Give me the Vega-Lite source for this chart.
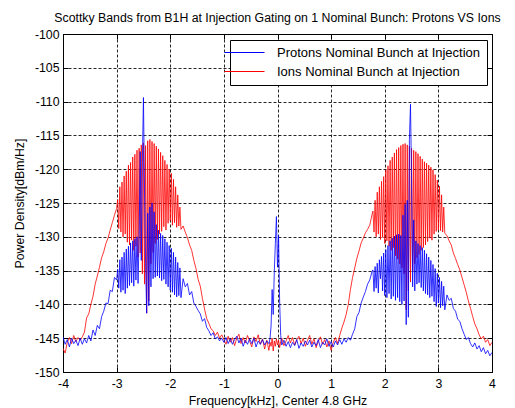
{
  "$schema": "https://vega.github.io/schema/vega-lite/v6.json",
  "width": 429,
  "height": 338,
  "autosize": {"type": "none"},
  "padding": {"left": 63, "top": 34, "right": 23, "bottom": 36},
  "background": "white",
  "title": {"text": "Scottky Bands from B1H at Injection Gating on 1 Nominal Bunch: Protons VS Ions", "fontSize": 12.3, "fontWeight": "normal", "color": "black", "anchor": "middle", "frame": "group", "offset": -6, "baseline": "alphabetic", "font": "Liberation Sans"},
  "config": {
    "font": "Liberation Sans",
    "view": {"stroke": "black", "strokeWidth": 1},
    "axis": {"domainColor": "black", "tickColor": "black", "labelColor": "black", "titleColor": "black", "labelFontSize": 12.3, "titleFontSize": 12.3, "titleFontWeight": "normal", "labelFont": "Liberation Sans", "titleFont": "Liberation Sans", "labelFlush": false, "labelOverlap": false, "gridColor": "black", "gridOpacity": 0.85, "gridDash": [3, 2], "gridWidth": 1, "labelExpr": "'' + datum.value"}
  },
  "data": {"values": [
{"f":-4.00,"a":-144.8,"b":-146.5},{"f":-3.96,"a":-145.9,"b":-147.2},{"f":-3.92,"a":-145.2,"b":-145.6},{"f":-3.88,"a":-146.3,"b":-144.9},
{"f":-3.84,"a":-145.0,"b":-145.8},{"f":-3.80,"a":-145.8,"b":-144.6},{"f":-3.76,"a":-145.3,"b":-145.5},{"f":-3.72,"a":-146.1,"b":-144.9},
{"f":-3.68,"a":-145.0,"b":-145.3},{"f":-3.64,"a":-145.9,"b":-144.8},{"f":-3.60,"a":-145.1,"b":-144.1},{"f":-3.56,"a":-145.7,"b":-142.0},
{"f":-3.52,"a":-144.6,"b":-141.4},{"f":-3.48,"a":-145.4,"b":-140.0},{"f":-3.44,"a":-143.8,"b":-138.8},{"f":-3.40,"a":-144.6,"b":-137.0},
{"f":-3.36,"a":-143.1,"b":-135.8},{"f":-3.32,"a":-143.6,"b":-134.5},{"f":-3.28,"a":-141.8,"b":-133.1},{"f":-3.24,"a":-141.0,"b":-132.2},
{"f":-3.20,"a":-139.8,"b":-131.0},{"f":-3.16,"a":-139.9,"b":-130.2},{"f":-3.12,"a":-137.9,"b":-129.0},{"f":-3.08,"a":-138.1,"b":-127.9},
{"f":-3.04,"a":-136.0,"b":-126.8},{"f":-3.00,"a":-136.4,"b":-125.8},
{"f":-2.98,"a":-134.8,"b":-124.5},{"f":-2.96,"a":-137.6,"b":-128.8},{"f":-2.94,"a":-133.4,"b":-122.6},{"f":-2.92,"a":-138.2,"b":-129.3},
{"f":-2.90,"a":-133.0,"b":-121.9},{"f":-2.88,"a":-137.9,"b":-130.0},{"f":-2.86,"a":-132.3,"b":-121.0},{"f":-2.84,"a":-138.4,"b":-129.6},
{"f":-2.82,"a":-131.8,"b":-120.3},{"f":-2.80,"a":-137.6,"b":-130.8},{"f":-2.78,"a":-131.4,"b":-119.4},{"f":-2.76,"a":-137.2,"b":-131.2},
{"f":-2.74,"a":-130.9,"b":-119.0},{"f":-2.72,"a":-136.8,"b":-130.5},{"f":-2.70,"a":-130.6,"b":-118.2},{"f":-2.68,"a":-137.3,"b":-132.0},
{"f":-2.66,"a":-130.3,"b":-117.8},{"f":-2.64,"a":-136.4,"b":-131.4},{"f":-2.62,"a":-130.0,"b":-117.2},{"f":-2.60,"a":-136.9,"b":-133.0},
{"f":-2.58,"a":-129.7,"b":-116.9},{"f":-2.56,"a":-117.4,"b":-132.4},{"f":-2.54,"a":-133.5,"b":-116.4},{"f":-2.52,"a":-119.0,"b":-135.5},
{"f":-2.50,"a":-109.4,"b":-116.1},{"f":-2.48,"a":-122.8,"b":-137.0},{"f":-2.46,"a":-134.0,"b":-116.5},{"f":-2.44,"a":-141.3,"b":-141.3},
{"f":-2.42,"a":-126.5,"b":-115.8},{"f":-2.40,"a":-140.2,"b":-139.5},{"f":-2.38,"a":-125.6,"b":-115.6},{"f":-2.36,"a":-137.4,"b":-134.0},
{"f":-2.34,"a":-125.0,"b":-115.9},{"f":-2.32,"a":-136.2,"b":-132.3},{"f":-2.30,"a":-126.3,"b":-116.2},{"f":-2.28,"a":-136.0,"b":-131.0},
{"f":-2.26,"a":-128.2,"b":-116.6},{"f":-2.24,"a":-135.8,"b":-130.4},{"f":-2.22,"a":-129.0,"b":-117.0},{"f":-2.20,"a":-136.1,"b":-129.6},
{"f":-2.18,"a":-129.5,"b":-117.5},{"f":-2.16,"a":-136.5,"b":-129.2},{"f":-2.14,"a":-129.8,"b":-118.0},{"f":-2.12,"a":-136.3,"b":-128.5},
{"f":-2.10,"a":-130.3,"b":-118.7},{"f":-2.08,"a":-137.0,"b":-129.0},{"f":-2.06,"a":-130.8,"b":-119.3},{"f":-2.04,"a":-137.4,"b":-128.0},
{"f":-2.02,"a":-131.3,"b":-120.0},{"f":-2.00,"a":-137.9,"b":-127.6},{"f":-1.98,"a":-131.7,"b":-120.6},{"f":-1.96,"a":-138.2,"b":-128.3},
{"f":-1.94,"a":-132.3,"b":-121.5},{"f":-1.92,"a":-138.6,"b":-127.9},{"f":-1.90,"a":-133.0,"b":-122.6},{"f":-1.88,"a":-138.9,"b":-128.6},
{"f":-1.86,"a":-133.8,"b":-123.8},{"f":-1.84,"a":-138.7,"b":-128.4},{"f":-1.82,"a":-134.6,"b":-125.6},{"f":-1.80,"a":-139.0,"b":-128.9},
{"f":-1.76,"a":-136.2,"b":-128.4},{"f":-1.72,"a":-137.4,"b":-129.3},{"f":-1.68,"a":-136.9,"b":-130.1},{"f":-1.64,"a":-138.6,"b":-131.2},
{"f":-1.60,"a":-138.1,"b":-132.0},{"f":-1.56,"a":-139.8,"b":-133.5},{"f":-1.52,"a":-140.3,"b":-134.7},{"f":-1.48,"a":-140.9,"b":-136.3},
{"f":-1.44,"a":-141.4,"b":-137.3},{"f":-1.40,"a":-142.5,"b":-139.1},{"f":-1.36,"a":-142.1,"b":-140.7},{"f":-1.32,"a":-143.4,"b":-142.1},
{"f":-1.28,"a":-143.9,"b":-142.8},{"f":-1.24,"a":-144.6,"b":-143.6},{"f":-1.20,"a":-144.2,"b":-143.9},{"f":-1.16,"a":-145.1,"b":-144.6},
{"f":-1.12,"a":-144.8,"b":-144.1},{"f":-1.08,"a":-145.4,"b":-145.0},{"f":-1.04,"a":-145.0,"b":-144.5},
{"f":-1.00,"a":-145.6,"b":-145.2},{"f":-0.96,"a":-144.9,"b":-145.9},{"f":-0.92,"a":-145.8,"b":-144.7},{"f":-0.88,"a":-145.1,"b":-145.6},
{"f":-0.84,"a":-145.9,"b":-144.9},{"f":-0.80,"a":-145.2,"b":-146.1},{"f":-0.76,"a":-144.7,"b":-145.0},{"f":-0.72,"a":-145.7,"b":-144.4},
{"f":-0.68,"a":-145.0,"b":-145.8},{"f":-0.64,"a":-146.2,"b":-144.9},{"f":-0.60,"a":-145.3,"b":-145.7},{"f":-0.56,"a":-145.9,"b":-144.6},
{"f":-0.52,"a":-145.1,"b":-145.4},{"f":-0.48,"a":-145.8,"b":-146.3},{"f":-0.44,"a":-145.0,"b":-144.8},{"f":-0.40,"a":-146.3,"b":-145.5},
{"f":-0.36,"a":-145.4,"b":-144.5},{"f":-0.32,"a":-145.9,"b":-145.9},{"f":-0.28,"a":-145.2,"b":-145.1},{"f":-0.24,"a":-146.0,"b":-146.6},
{"f":-0.20,"a":-145.4,"b":-145.3},{"f":-0.16,"a":-145.8,"b":-146.8},{"f":-0.14,"a":-145.1,"b":-145.6},{"f":-0.12,"a":-143.2,"b":-146.2},
{"f":-0.10,"a":-137.8,"b":-145.0},{"f":-0.08,"a":-141.5,"b":-146.9},{"f":-0.06,"a":-135.2,"b":-145.4},{"f":-0.04,"a":-131.0,"b":-146.2},
{"f":-0.02,"a":-127.0,"b":-145.1},{"f":0.00,"a":-134.5,"b":-146.0},{"f":0.02,"a":-129.8,"b":-145.3},{"f":0.04,"a":-139.6,"b":-146.4},
{"f":0.06,"a":-144.6,"b":-145.5},{"f":0.08,"a":-146.0,"b":-145.0},{"f":0.12,"a":-145.3,"b":-146.1},{"f":0.16,"a":-146.2,"b":-145.4},
{"f":0.20,"a":-145.5,"b":-144.6},{"f":0.24,"a":-146.4,"b":-145.7},{"f":0.28,"a":-145.6,"b":-144.9},{"f":0.32,"a":-146.1,"b":-146.0},
{"f":0.36,"a":-145.2,"b":-145.2},{"f":0.40,"a":-146.5,"b":-144.7},{"f":0.44,"a":-145.7,"b":-145.8},{"f":0.48,"a":-146.2,"b":-145.0},
{"f":0.52,"a":-145.4,"b":-146.2},{"f":0.56,"a":-146.0,"b":-145.3},{"f":0.60,"a":-145.3,"b":-144.6},{"f":0.64,"a":-146.3,"b":-145.9},
{"f":0.68,"a":-145.6,"b":-145.1},{"f":0.72,"a":-146.1,"b":-146.4},{"f":0.76,"a":-145.2,"b":-145.5},{"f":0.80,"a":-146.4,"b":-144.8},
{"f":0.84,"a":-145.6,"b":-145.9},{"f":0.88,"a":-146.0,"b":-145.2},{"f":0.92,"a":-145.1,"b":-146.3},{"f":0.96,"a":-146.2,"b":-145.4},
{"f":1.00,"a":-145.5,"b":-146.8},{"f":1.04,"a":-146.3,"b":-145.6},{"f":1.08,"a":-145.4,"b":-144.9},{"f":1.12,"a":-146.0,"b":-145.8},
{"f":1.16,"a":-145.2,"b":-144.6},{"f":1.20,"a":-145.9,"b":-143.5},{"f":1.24,"a":-145.1,"b":-142.6},{"f":1.28,"a":-145.6,"b":-141.5},
{"f":1.32,"a":-144.9,"b":-140.0},{"f":1.36,"a":-145.3,"b":-137.8},{"f":1.40,"a":-144.4,"b":-136.0},{"f":1.44,"a":-143.6,"b":-134.6},
{"f":1.48,"a":-141.8,"b":-133.2},{"f":1.52,"a":-141.2,"b":-132.1},{"f":1.56,"a":-139.8,"b":-130.9},{"f":1.60,"a":-138.9,"b":-130.2},
{"f":1.64,"a":-138.1,"b":-129.4},{"f":1.68,"a":-137.0,"b":-128.9},{"f":1.72,"a":-136.4,"b":-128.3},{"f":1.76,"a":-135.2,"b":-126.8},
{"f":1.78,"a":-134.9,"b":-126.2},{"f":1.80,"a":-138.1,"b":-129.3},{"f":1.82,"a":-134.4,"b":-124.6},{"f":1.84,"a":-137.6,"b":-130.0},
{"f":1.86,"a":-133.9,"b":-123.4},{"f":1.88,"a":-138.3,"b":-129.6},{"f":1.90,"a":-133.4,"b":-122.6},{"f":1.92,"a":-136.2,"b":-130.4},
{"f":1.94,"a":-132.9,"b":-121.8},{"f":1.96,"a":-138.0,"b":-130.1},{"f":1.98,"a":-132.4,"b":-121.1},{"f":2.00,"a":-138.7,"b":-131.0},
{"f":2.02,"a":-131.9,"b":-120.1},{"f":2.04,"a":-139.0,"b":-130.6},{"f":2.06,"a":-131.3,"b":-119.5},{"f":2.08,"a":-138.4,"b":-131.4},
{"f":2.10,"a":-130.6,"b":-118.7},{"f":2.12,"a":-139.2,"b":-132.0},{"f":2.14,"a":-130.2,"b":-118.2},{"f":2.16,"a":-138.8,"b":-131.6},
{"f":2.18,"a":-129.9,"b":-117.6},{"f":2.20,"a":-139.4,"b":-132.8},{"f":2.22,"a":-129.7,"b":-117.1},{"f":2.24,"a":-139.0,"b":-133.3},
{"f":2.26,"a":-129.6,"b":-116.8},{"f":2.28,"a":-139.6,"b":-134.0},{"f":2.30,"a":-129.8,"b":-116.5},{"f":2.32,"a":-140.0,"b":-134.6},
{"f":2.34,"a":-126.8,"b":-116.3},{"f":2.36,"a":-139.5,"b":-135.5},{"f":2.38,"a":-125.2,"b":-116.2},{"f":2.40,"a":-143.0,"b":-140.8},
{"f":2.42,"a":-124.6,"b":-116.4},{"f":2.44,"a":-141.9,"b":-138.0},{"f":2.46,"a":-115.6,"b":-116.6},{"f":2.48,"a":-110.4,"b":-136.7},
{"f":2.50,"a":-121.5,"b":-116.9},{"f":2.52,"a":-137.4,"b":-135.2},{"f":2.54,"a":-127.5,"b":-117.2},{"f":2.56,"a":-138.0,"b":-134.0},
{"f":2.58,"a":-130.6,"b":-117.4},{"f":2.60,"a":-137.0,"b":-133.1},{"f":2.62,"a":-131.0,"b":-117.7},{"f":2.64,"a":-136.8,"b":-132.6},
{"f":2.66,"a":-131.3,"b":-118.1},{"f":2.68,"a":-137.5,"b":-132.0},{"f":2.70,"a":-131.6,"b":-118.5},{"f":2.72,"a":-138.0,"b":-131.6},
{"f":2.74,"a":-132.0,"b":-118.9},{"f":2.76,"a":-138.4,"b":-131.2},{"f":2.78,"a":-132.5,"b":-119.1},{"f":2.80,"a":-138.6,"b":-130.7},
{"f":2.82,"a":-133.0,"b":-119.4},{"f":2.84,"a":-139.0,"b":-130.2},{"f":2.86,"a":-133.5,"b":-119.7},{"f":2.88,"a":-138.8,"b":-130.5},
{"f":2.90,"a":-134.1,"b":-120.1},{"f":2.92,"a":-139.6,"b":-129.6},{"f":2.94,"a":-134.7,"b":-120.8},{"f":2.96,"a":-140.3,"b":-129.2},
{"f":2.98,"a":-135.4,"b":-121.6},{"f":3.00,"a":-139.8,"b":-129.0},{"f":3.02,"a":-136.0,"b":-122.5},{"f":3.04,"a":-140.5,"b":-129.1},
{"f":3.06,"a":-136.6,"b":-123.8},{"f":3.08,"a":-140.2,"b":-129.3},{"f":3.10,"a":-137.3,"b":-125.6},{"f":3.12,"a":-140.8,"b":-129.5},
{"f":3.16,"a":-138.6,"b":-129.8},{"f":3.20,"a":-139.4,"b":-130.6},{"f":3.24,"a":-139.1,"b":-131.2},{"f":3.28,"a":-140.6,"b":-132.4},
{"f":3.32,"a":-141.0,"b":-133.2},{"f":3.36,"a":-142.2,"b":-134.1},{"f":3.40,"a":-142.5,"b":-134.9},{"f":3.44,"a":-143.6,"b":-136.0},
{"f":3.48,"a":-144.4,"b":-137.1},{"f":3.52,"a":-145.2,"b":-138.2},{"f":3.56,"a":-144.9,"b":-139.5},{"f":3.60,"a":-145.8,"b":-140.6},
{"f":3.64,"a":-146.3,"b":-141.8},{"f":3.68,"a":-145.7,"b":-142.9},{"f":3.72,"a":-146.6,"b":-143.6},{"f":3.76,"a":-146.1,"b":-144.5},
{"f":3.80,"a":-147.0,"b":-145.1},{"f":3.84,"a":-146.4,"b":-144.7},{"f":3.88,"a":-147.3,"b":-145.6},{"f":3.92,"a":-146.8,"b":-145.2},
{"f":3.96,"a":-147.6,"b":-146.1},{"f":4.00,"a":-147.1,"b":-145.6}
  ]},
  "layer": [
    {
      "mark": {"type": "line", "strokeWidth": 0.8, "clip": true},
      "encoding": {
        "x": {"field": "f", "type": "quantitative", "scale": {"domain": [-4, 4], "nice": false, "zero": false},
          "axis": {"orient": "bottom", "values": [-4, -3, -2, -1, 0, 1, 2, 3, 4], "title": "Frequency[kHz], Center 4.8 GHz", "grid": true, "tickSize": -5, "labelPadding": 10, "titlePadding": 5}},
        "y": {"field": "b", "type": "quantitative", "scale": {"domain": [-150, -100], "nice": false, "zero": false},
          "axis": {"orient": "left", "values": [-150, -145, -140, -135, -130, -125, -120, -115, -110, -105, -100], "title": "Power Density[dBm/Hz]", "grid": true, "tickSize": -5, "labelPadding": 9, "titlePadding": 8}},
        "color": {"datum": "Ions Nominal Bunch at Injection", "type": "nominal",
          "scale": {"domain": ["Protons Nominal Bunch at Injection", "Ions Nominal Bunch at Injection"], "range": ["#0000ff", "#ff0000"]},
          "legend": {"orient": "none", "legendX": 167, "legendY": 6, "title": null, "strokeColor": "black", "fillColor": "white", "padding": 6, "symbolType": "M-3.6,0H4.4", "symbolSize": 100, "symbolStrokeWidth": 1, "labelFontSize": 13, "labelColor": "black", "labelFont": "Liberation Sans", "labelLimit": 400, "labelOffset": 28, "rowPadding": 5}}
      }
    },
    {
      "mark": {"type": "line", "strokeWidth": 0.8, "clip": true},
      "encoding": {
        "x": {"field": "f", "type": "quantitative",
          "axis": {"orient": "top", "values": [-4, -3, -2, -1, 0, 1, 2, 3, 4], "title": null, "labels": false, "grid": false, "tickSize": -5}},
        "y": {"field": "a", "type": "quantitative",
          "axis": {"orient": "right", "values": [-150, -145, -140, -135, -130, -125, -120, -115, -110, -105, -100], "title": null, "labels": false, "grid": false, "tickSize": -5}},
        "color": {"datum": "Protons Nominal Bunch at Injection", "type": "nominal"}
      }
    }
  ],
  "resolve": {"axis": {"x": "independent", "y": "independent"}}
}
